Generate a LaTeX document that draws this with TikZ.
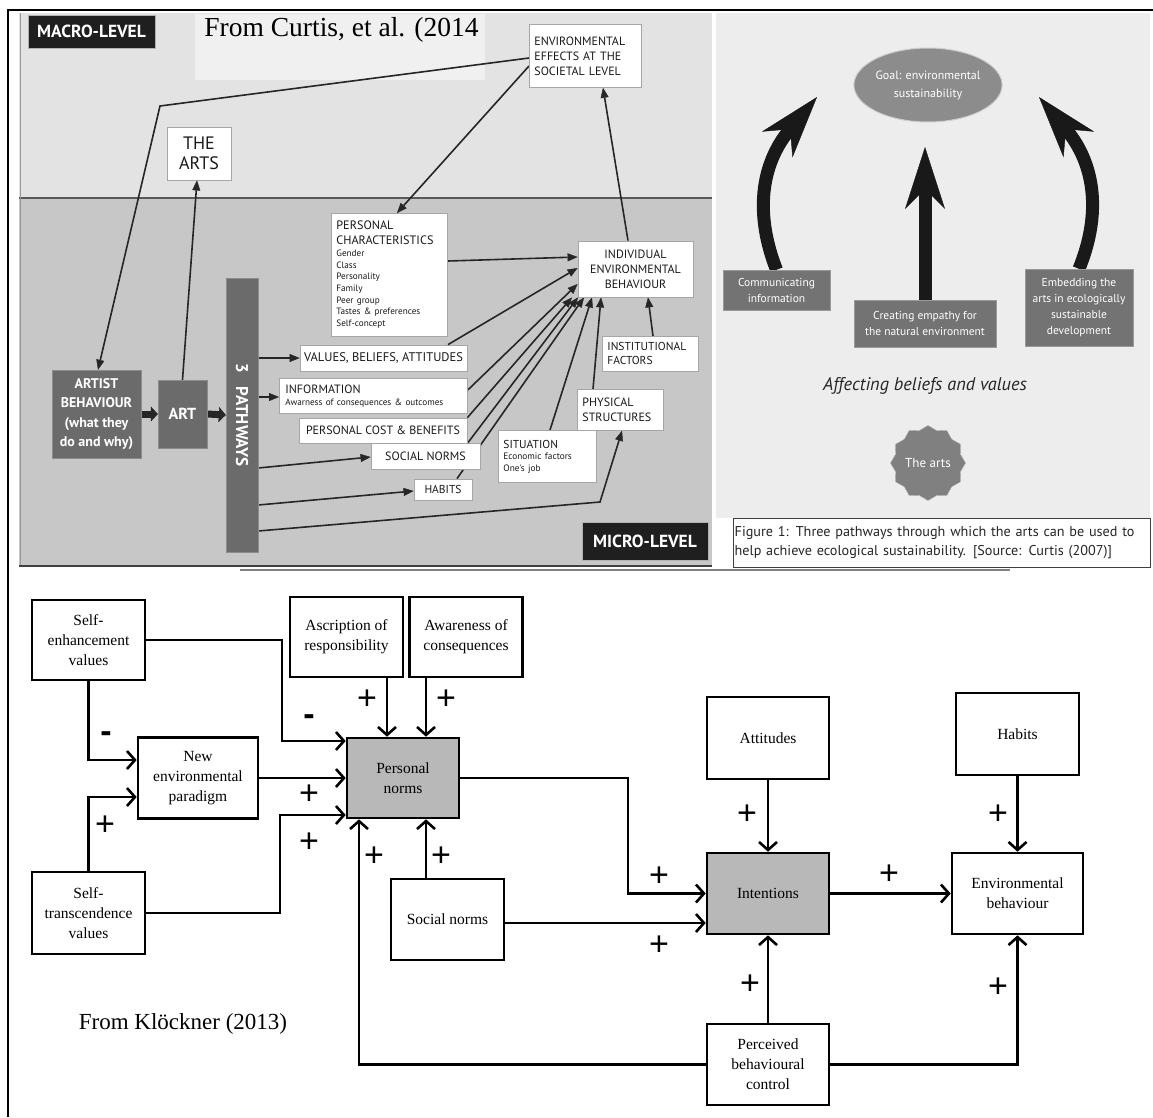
\documentclass[tikz,border=0pt]{standalone}
\usepackage{fontspec}
\setmainfont{Liberation Serif}
\newfontfamily\dinfont{PT Sans}
\newfontfamily\signfont{Liberation Sans}
\newcommand{\cfont}[2]{\dinfont\fontsize{#1}{#2}\selectfont}
\usetikzlibrary{arrows.meta, shapes.geometric}
\pgfdeclarelayer{panel}
\pgfdeclarelayer{wires}
\pgfsetlayers{panel,wires,main}

\begin{document}
\begin{tikzpicture}[x=1pt, y=-1pt,
    cbox/.style={draw=black!35, fill=white, line width=0.8pt, text=black!90, font=\dinfont, inner sep=2pt},
    cdark/.style={fill=black!58, draw=black!45, text=white, align=center, inner sep=1pt},
    levellabel/.style={fill=black!88, draw=black!30, text=white, font=\cfont{17.5}{17.5}\bfseries},
    carrow/.style={draw=black!85, line width=1.6pt, -{Triangle[length=10pt, width=8pt, line width=0.4pt]}},
    blockarrow/.style={draw=black!85, line width=7pt, -{Triangle[length=7pt, width=15pt, line width=0.4pt]}},
    pbox/.style={fill=black!55, draw=black!40, text=white, font=\cfont{11.5}{16}, align=center},
    bigarrow/.style={draw=black!90, line width=13pt, -{Stealth[length=62pt, width=40pt, inset=20pt, line width=0.4pt]}},
    kbox/.style={draw, line width=2.6pt, fill=white, align=center, font=\fontsize{15.5}{20}\selectfont, inner sep=0pt},
    kshade/.style={kbox, fill=black!28},
    karrow/.style={line width=2.6pt, -{Straight Barb[length=8pt, width=18pt]}},
    sign/.style={font=\signfont\fontsize{34}{34}\selectfont, inner sep=0pt},
]
\useasboundingbox (0,0) rectangle (1153,1117);

% Curtis et al. (2014): macro level
\node[levellabel, minimum width=127, minimum height=33] (macro) at (91.5,31.5) {MACRO-LEVEL};
\node[font=\fontsize{27.5}{30}\selectfont] (curtis) at (341.5,30) {From Curtis, et al. (2014};
\node[cbox, anchor=north west, minimum width=112, minimum height=63, text width=102, inner xsep=5pt, align=left, font=\cfont{12}{15}] (effects) at (529,24) {ENVIRONMENTAL\\EFFECTS AT THE\\SOCIETAL LEVEL};
\node[cbox, minimum width=64, minimum height=53, align=center, font=\cfont{18}{20}] (thearts) at (199,153.5) {THE\\ARTS};

% Curtis et al. (2014): micro level
\node[cdark, minimum width=89, minimum height=88, font=\cfont{14}{19.5}\bfseries] (artist) at (96.5,414) {ARTIST\\BEHAVIOUR\\(what they\\do and why)};
\node[cdark, minimum width=49, minimum height=68, font=\cfont{16}{16}\bfseries] (art) at (182.5,414) {ART};
\node[cdark, minimum width=32, minimum height=274] (pathways) at (242,415) {};
\node[rotate=-90, text=white, font=\cfont{17}{17}\bfseries] (pathlabel) at (242,415) {3\hspace{14pt}PATHWAYS};
\node[cbox, anchor=north west, minimum width=116, minimum height=123, text width=106, inner xsep=5pt, inner ysep=4pt, align=left] (pchar) at (331,213) {\cfont{12.2}{15}PERSONAL\\CHARACTERISTICS\\\cfont{9.2}{11.7}Gender\\Class\\Personality\\Family\\Peer group\\Tastes \& preferences\\Self-concept};
\node[cbox, minimum width=115, minimum height=56, align=center, font=\cfont{12}{15}] (ieb) at (635.5,269) {INDIVIDUAL\\ENVIRONMENTAL\\BEHAVIOUR};
\node[cbox, minimum width=167, minimum height=26, font=\cfont{12.5}{14}] (values) at (383.5,358) {VALUES, BELIEFS, ATTITUDES};
\node[cbox, anchor=north west, minimum width=188, minimum height=35, text width=176, inner xsep=6pt, align=left] (info) at (279,378) {\cfont{12}{13}INFORMATION\\\cfont{9.2}{11}Awarness of consequences \& outcomes};
\node[cbox, minimum width=168, minimum height=25, font=\cfont{12}{14}] (pcb) at (383,430.5) {PERSONAL COST \& BENEFITS};
\node[cbox, minimum width=109, minimum height=26, font=\cfont{12}{14}] (socnorm) at (425.5,456) {SOCIAL NORMS};
\node[cbox, minimum width=58, minimum height=21, font=\cfont{11.5}{13}] (habitsc) at (443,489.5) {HABITS};
\node[cbox, anchor=north west, minimum width=98, minimum height=52, text width=88, inner xsep=5pt, align=left] (situation) at (498,430) {\cfont{11.5}{12}SITUATION\\\cfont{9.3}{11}Economic factors\\One's job};
\node[cbox, anchor=north west, minimum width=86, minimum height=41, text width=76, inner xsep=5pt, align=left, font=\cfont{12}{15}] (physical) at (577,389) {PHYSICAL\\STRUCTURES};
\node[cbox, anchor=north west, minimum width=96, minimum height=35, text width=86, inner xsep=5pt, align=left, font=\cfont{11.5}{14}] (institutional) at (602,336) {INSTITUTIONAL\\FACTORS};
\node[levellabel, minimum width=126, minimum height=38] (micro) at (645,541) {MICRO-LEVEL};

% Curtis (2007): three pathways
\node[ellipse, fill=black!45, draw=black!20, line width=1pt, minimum width=141, minimum height=74, text=white, font=\cfont{12}{18}, align=center, inner sep=0pt] (goal) at (928,85) {Goal: environmental\\sustainability};
\node[pbox, minimum width=107, minimum height=40] (comm) at (776.5,290) {Communicating\\information};
\node[pbox, minimum width=142, minimum height=47] (empathy) at (925,323.5) {Creating empathy for\\the natural environment};
\node[pbox, minimum width=108, minimum height=77] (embed) at (1079,307.5) {Embedding the\\arts in ecologically\\sustainable\\development};
\node[font=\cfont{18.3}{18.3}\itshape, text=black!85] (affect) at (925,386) {Affecting beliefs and values};
\node[star, star points=12, star point ratio=1.12, fill=black!50, draw=black!25, minimum size=74, inner sep=1pt, text=white, font=\cfont{13}{13}] (artsstar) at (928,463) {The arts};
\node[draw=black!75, fill=white, anchor=north west, minimum width=417, minimum height=49, text width=414, inner xsep=1.5pt, align=left, text=black!85, font=\cfont{14.2}{19.5}] (caption) at (733,518) {Figure 1: Three pathways through which the arts can be used to\\help achieve ecological sustainability. [Source: Curtis (2007)]};
\coordinate (lefttip) at (817,97);
\coordinate (midtip) at (925,147);
\coordinate (righttip) at (1039,97);

% Kloeckner (2013)
\node[kbox, minimum width=113, minimum height=80] (selfenh) at (88.5,640) {Self-\\enhancement\\values};
\node[kbox, minimum width=120, minimum height=81] (nep) at (198,778) {New\\environmental\\paradigm};
\node[kbox, minimum width=113, minimum height=80] (ascription) at (346.5,637) {Ascription of\\responsibility};
\node[kbox, minimum width=113, minimum height=80] (awareness) at (466,637) {Awareness of\\consequences};
\node[kshade, minimum width=112, minimum height=80] (pnorms) at (403,778) {Personal\\norms};
\node[kbox, minimum width=113, minimum height=82] (selftrans) at (88.5,913) {Self-\\transcendence\\values};
\node[kbox, minimum width=113, minimum height=81] (socnorms) at (447.5,919.5) {Social norms};
\node[kbox, minimum width=122, minimum height=82] (attitudes) at (768,738) {Attitudes};
\node[kbox, minimum width=123, minimum height=82] (habits) at (1017.5,734) {Habits};
\node[kshade, minimum width=122, minimum height=81] (intentions) at (768,893.5) {Intentions};
\node[kbox, minimum width=131, minimum height=81] (envbeh) at (1017.5,893.5) {Environmental\\behaviour};
\node[kbox, minimum width=122, minimum height=81] (pbc) at (768,1064.5) {Perceived\\behavioural\\control};
\node[font=\fontsize{23}{26}\selectfont] (kloeckner) at (183,1024) {From Klöckner (2013)};

% Signs
\foreach \sx/\sy [count=\i] in {309/795, 105/826, 309/843, 367/700, 446/700, 441/857, 374/857, 659/877, 659/946, 747/815, 889/875, 998/815, 998/988, 750/985}
    \node[sign] (plus\i) at (\sx,\sy) {+};
\foreach \sx/\sy [count=\i] in {309/720, 106/737}
    \node[sign, font=\signfont\bfseries\fontsize{34}{34}\selectfont] (minus\i) at (\sx,\sy) {-};

\begin{pgfonlayer}{wires}
    % Curtis (2014) connectors
    \draw[carrow] (effects.west |- 0,58) -- (160,106) -- (artist.north -| 98,0);
    \draw[carrow] (effects.west |- 0,66) -- (pchar.north -| 397,0);
    \draw[carrow] (ieb.north -| 628,0) -- (effects.south -| 603,0);
    \draw[carrow] (art.north) -- (thearts.south -| 197,0);
    \draw[blockarrow] (artist.east) -- (art.west);
    \draw[blockarrow] (art.east) -- (pathways.west);
    \draw[carrow] (pathways.east |- 0,358) -- (values.west);
    \draw[carrow] (pathways.east |- 0,397) -- (info.west |- 0,397);
    \draw[carrow] (pathways.east |- 0,468) -- (socnorm.west |- 0,457);
    \draw[carrow] (pathways.east |- 0,505) -- (habitsc.west |- 0,491);
    \draw[carrow] (pathways.east |- 0,531) -- (600,502) -- (physical.south -| 622,0);
    \draw[carrow] (pchar.east |- 0,261) -- (ieb.west |- 0,257);
    \draw[carrow] (values.north -| 448,0) -- (ieb.west |- 0,268);
    \draw[carrow] (info.east |- 0,390) -- (ieb.west |- 0,284);
    \draw[carrow] (pcb.north east) -- (ieb.south -| 572,0);
    \draw[carrow] (socnorm.north -| 468,0) -- (ieb.south -| 578,0);
    \draw[carrow] (habitsc.north -| 457,0) -- (ieb.south -| 584,0);
    \draw[carrow] (situation.north -| 550,0) -- (ieb.south -| 592,0);
    \draw[carrow] (physical.north -| 593,0) -- (ieb.south -| 601,0);
    \draw[carrow] (institutional.north -| 653,0) -- (ieb.south -| 648,0);

    % Curtis (2007) arrows
    \draw[bigarrow] (comm.north) .. controls (755,215) and (760,165) .. (lefttip);
    \draw[bigarrow] (empathy.north) -- (midtip);
    \draw[bigarrow] (embed.north) .. controls (1101,215) and (1096,165) .. (righttip);

    % Kloeckner (2013) connectors
    \draw[karrow] (selfenh.east) -| (282,741) -- (pnorms.west |- 0,741);
    \draw[karrow] (selfenh.south) |- (nep.west |- 0,760);
    \draw[karrow] (nep.east) -- (pnorms.west);
    \draw[karrow] (selftrans.north) |- (nep.west |- 0,797);
    \draw[karrow] (selftrans.east) -| (280,815) -- (pnorms.west |- 0,815);
    \draw[karrow] (ascription.south -| 387,0) -- (pnorms.north -| 387,0);
    \draw[karrow] (awareness.south -| 426,0) -- (pnorms.north -| 426,0);
    \draw[karrow] (socnorms.north -| 426,0) -- (pnorms.south -| 426,0);
    \draw[karrow] (pbc.west) -| (pnorms.south -| 359,0);
    \draw[karrow] (pnorms.east) -| (628,893.5) -- (intentions.west);
    \draw[karrow] (socnorms.east |- 0,923) -- (intentions.west |- 0,923);
    \draw[karrow] (attitudes.south) -- (intentions.north);
    \draw[karrow] (intentions.east) -- (envbeh.west);
    \draw[karrow] (habits.south) -- (envbeh.north);
    \draw[karrow] (pbc.north) -- (intentions.south);
    \draw[karrow] (pbc.east) -| (envbeh.south);
\end{pgfonlayer}

\begin{pgfonlayer}{panel}
    % Panels and frame
    \fill[black!11] (19,13) rectangle (712,198);
    \fill[black!22] (19,198) rectangle (712,566);
    \fill[black!6] (195,14) rectangle (485,80);
    \draw[black!65, line width=1.8pt] (19,198) -- (712,198);
    \draw[black!40, line width=1pt] (20,13) -- (20,566);
    \draw[black!75, line width=1.5pt] (19,566) -- (712,566);
    \fill[black!7] (716,13) rectangle (1150,518);
    \draw[black!50, line width=1.2pt] (240,570) -- (1010,570);
    \draw[line width=2.5pt] (8,1117) -- (8,10) -- (1153,10);
\end{pgfonlayer}
\end{tikzpicture}
\end{document}
